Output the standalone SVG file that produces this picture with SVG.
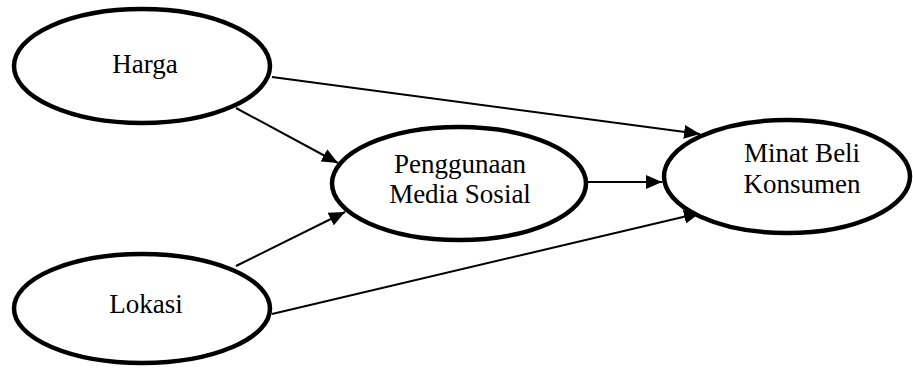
<svg xmlns="http://www.w3.org/2000/svg" width="913" height="368" viewBox="0 0 913 368">
<defs>
<marker id="arrow" markerWidth="16" markerHeight="14" refX="16" refY="7" orient="auto" markerUnits="userSpaceOnUse">
<path d="M0,0 L16,7 L0,14 Z" fill="#000"/>
</marker>
<style>
.node ellipse{fill:#fff;stroke:#000;stroke-width:4.5}
.node text{font-family:"Liberation Serif","DejaVu Serif",serif;font-size:27px;fill:#000;text-anchor:middle}
.edge{stroke:#000;stroke-width:2;fill:none;marker-end:url(#arrow)}
</style>
</defs>
<rect width="913" height="368" fill="#fff"/>
<g id="connectors">
<line class="edge" x1="272" y1="77" x2="700" y2="134"/>
<line class="edge" x1="236" y1="108" x2="338" y2="163"/>
<line class="edge" x1="588" y1="182" x2="662" y2="182"/>
<line class="edge" x1="236" y1="266" x2="345" y2="212"/>
<line class="edge" x1="272" y1="314" x2="700" y2="213"/>
</g>
<g id="harga" class="node">
<ellipse cx="142" cy="66" rx="128" ry="57"/>
<text x="145" y="73">Harga</text>
</g>
<g id="penggunaan" class="node">
<ellipse cx="459" cy="183.5" rx="127" ry="56.5"/>
<text x="460" y="173">Penggunaan</text>
<text x="460" y="203">Media Sosial</text>
</g>
<g id="minat" class="node">
<ellipse cx="787" cy="176.5" rx="123" ry="56.5"/>
<text x="802" y="162">Minat Beli</text>
<text x="802" y="193">Konsumen</text>
</g>
<g id="lokasi" class="node">
<ellipse cx="142" cy="308.5" rx="128" ry="54.5"/>
<text x="146" y="313">Lokasi</text>
</g>
</svg>
